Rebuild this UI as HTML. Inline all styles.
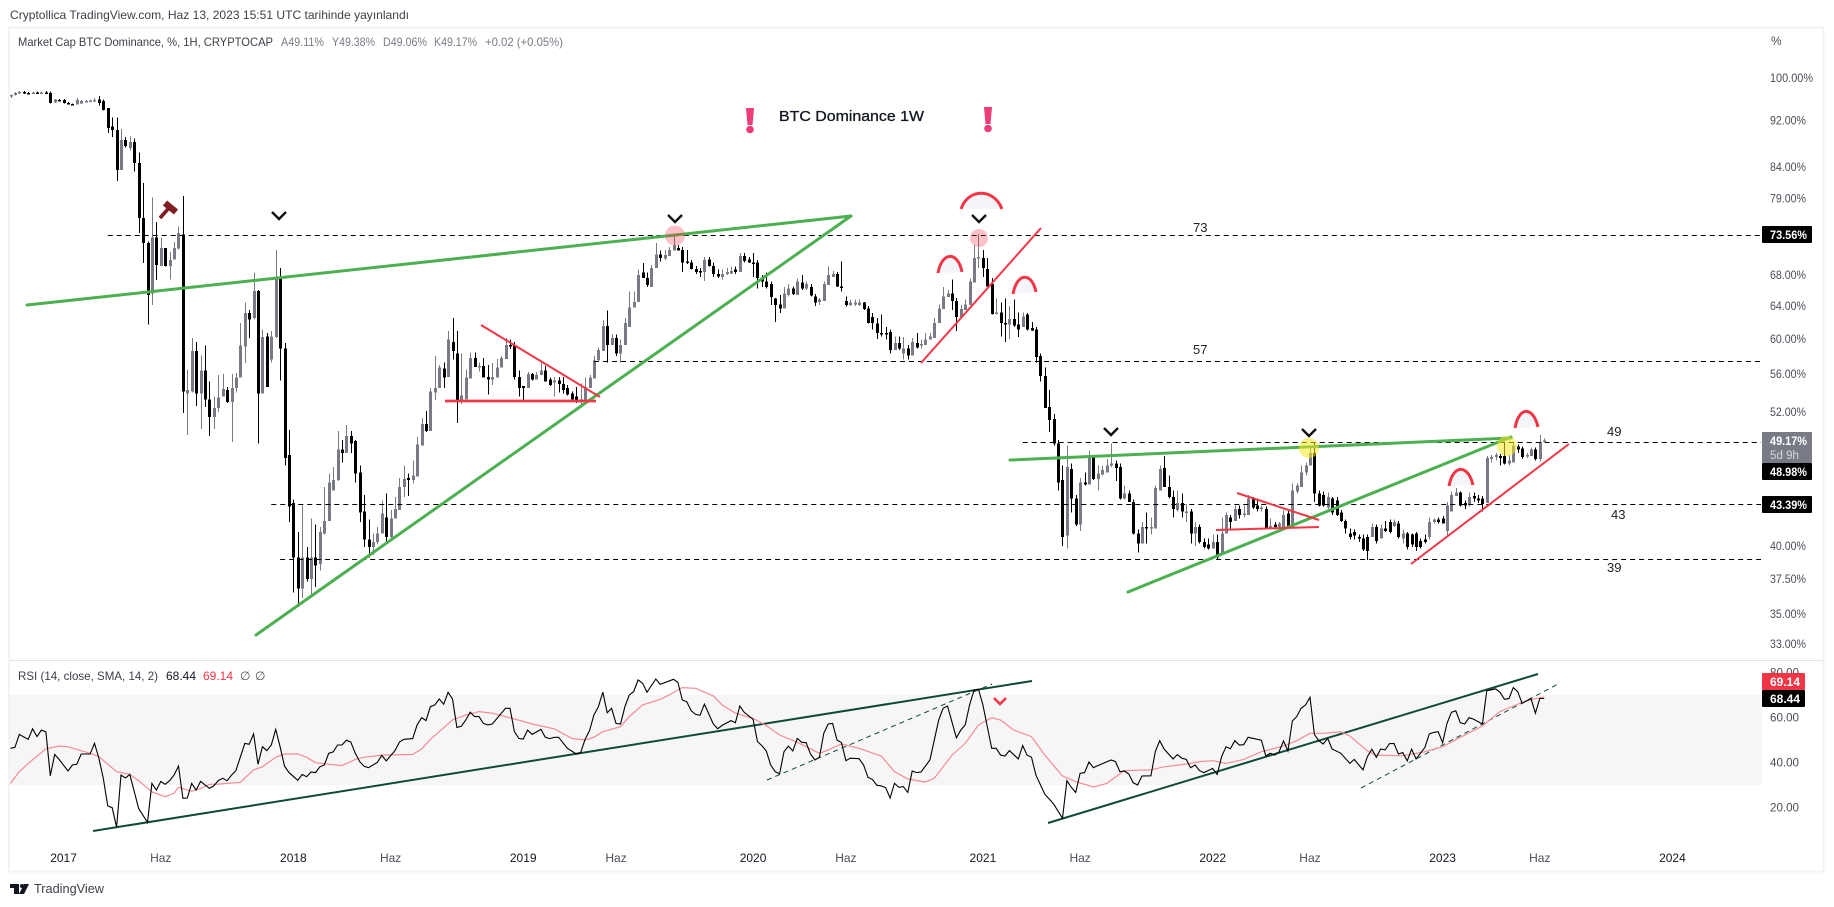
<!DOCTYPE html>
<html lang="tr">
<head>
<meta charset="utf-8">
<title>Market Cap BTC Dominance</title>
<style>
html,body{margin:0;padding:0;background:#fff;width:1834px;height:907px;overflow:hidden}
svg{display:block}
text{font-family:"Liberation Sans",sans-serif;font-size:12px;fill:#3c4049}
.tick{font-size:12px;fill:#4a4e59}
.tag{font-size:11.5px;font-weight:bold;fill:#fff}
.lvl{font-size:13px;fill:#222}
</style>
</head>
<body>
<svg id="chart" xmlns="http://www.w3.org/2000/svg" width="1834" height="907" viewBox="0 0 1834 907">
  <rect x="0" y="0" width="1834" height="907" fill="#fff"/>
  <text x="10" y="19" textLength="399" lengthAdjust="spacingAndGlyphs">Cryptollica TradingView.com, Haz 13, 2023 15:51 UTC tarihinde yayınlandı</text>
  <rect x="9" y="27.5" width="1814.5" height="844" fill="none" stroke="#f2f3f7" stroke-width="2"/>
  <line x1="10" y1="660.5" x2="1823" y2="660.5" stroke="#e0e3eb" stroke-width="1"/>

  <rect x="10" y="695" width="1752" height="90" fill="#f6f6f6"/>

  <g id="candles"></g>
  <g id="levels"></g>

  <g stroke="#4caf50" stroke-width="3" stroke-linecap="round" fill="none">
    <line x1="27" y1="305" x2="851" y2="216"/>
    <line x1="256" y1="635" x2="851" y2="216"/>
    <line x1="1010" y1="460" x2="1511" y2="438"/>
    <line x1="1128" y1="592" x2="1511" y2="437"/>
  </g>
  <g stroke="#f23645" stroke-width="2" fill="none">
    <line x1="481" y1="325" x2="600" y2="397"/>
    <line x1="445" y1="401" x2="596" y2="401" stroke-width="4" stroke-opacity=".35"/>
    <line x1="445" y1="401" x2="596" y2="401"/>
    <line x1="921" y1="363" x2="1041" y2="228"/>
    <line x1="1237" y1="493" x2="1319" y2="520"/>
    <line x1="1216" y1="530" x2="1319" y2="527"/>
    <line x1="1411" y1="564" x2="1569" y2="444"/>
  </g>
  <g stroke="#f23645" stroke-width="3" fill="#f4f5f8">
    <path d="M961 209 C968 188 994 188 1002 209"/>
    <path d="M938 273 C942 251 958 251 962 272"/>
    <path d="M1013 294 C1017 272 1032 272 1036 292"/>
    <path d="M1449 486 C1453 464 1468 464 1473 485"/>
    <path d="M1515 428 C1519 406 1533 406 1538 427"/>
  </g>
  <g>
    <circle cx="675" cy="235.5" r="10" fill="#f23645" fill-opacity=".3"/>
    <circle cx="979" cy="238" r="9" fill="#f23645" fill-opacity=".3"/>
    <circle cx="1309" cy="448" r="10" fill="#f5e625" fill-opacity=".55"/>
    <circle cx="1507" cy="446" r="10" fill="#f5e625" fill-opacity=".55"/>
  </g>
  <g fill="none" stroke="#111" stroke-width="2.4">
    <path d="M272 212 L279 219 L286 212"/>
    <path d="M668 215 L675 222 L682 215"/>
    <path d="M972 215 L979 222 L986 215"/>
    <path d="M1104 428 L1111 435 L1118 428"/>
    <path d="M1302 429 L1309 436 L1316 429"/>
    <path d="M994 698 L1000 704 L1006 698" stroke="#f23645" stroke-width="2.6"/>
  </g>
  <g stroke="#7f1d22" fill="none">
    <line x1="160" y1="218" x2="168" y2="209" stroke-width="3.6"/>
    <line x1="165" y1="203" x2="176" y2="212" stroke-width="6.5"/>
  </g>
  <g fill="#ee3b7a">
    <polygon points="746,108 754,108 752.5,125 747.5,125"/>
    <circle cx="750" cy="129.5" r="3.8"/>
  </g>
  <g fill="#ee3b7a">
    <polygon points="984,107 992,107 990.5,124 985.5,124"/>
    <circle cx="988" cy="128.5" r="3.8"/>
  </g>
  <text x="779" y="121" textLength="145" lengthAdjust="spacingAndGlyphs" style="font-size:15px;fill:#131722;stroke:#131722;stroke-width:.3">BTC Dominance  1W</text>
  <text class="lvl" x="1193" y="232">73</text>
  <text class="lvl" x="1193" y="354">57</text>
  <text class="lvl" x="1607" y="436">49</text>
  <text class="lvl" x="1611" y="519">43</text>
  <text class="lvl" x="1607" y="572">39</text>

  <g>
    <text x="18" y="46" textLength="255" lengthAdjust="spacingAndGlyphs">Market Cap BTC Dominance, %, 1H, CRYPTOCAP</text>
    <text x="281" y="46" textLength="43" lengthAdjust="spacingAndGlyphs" style="fill:#787b86">A49.11%</text>
    <text x="332" y="46" textLength="43" lengthAdjust="spacingAndGlyphs" style="fill:#787b86">Y49.38%</text>
    <text x="383" y="46" textLength="44" lengthAdjust="spacingAndGlyphs" style="fill:#787b86">D49.06%</text>
    <text x="434" y="46" textLength="43" lengthAdjust="spacingAndGlyphs" style="fill:#787b86">K49.17%</text>
    <text x="485" y="46" textLength="78" lengthAdjust="spacingAndGlyphs" style="fill:#787b86">+0.02 (+0.05%)</text>
  </g>
  <text class="tick" x="1771" y="45">%</text>
  <g id="priceAxis"></g>
  <g id="rsiAxis"></g>
  <g id="timeAxis"></g>

  <g>
    <rect x="1762" y="226" width="50" height="17" rx="1" fill="#000"/>
    <text class="tag" x="1770" y="239" textLength="37" lengthAdjust="spacingAndGlyphs">73.56%</text>
  </g>
  <g>
    <rect x="1762" y="432" width="50" height="31" rx="1" fill="#787b86"/>
    <text class="tag" x="1770" y="445" textLength="37" lengthAdjust="spacingAndGlyphs">49.17%</text>
    <text x="1770" y="459" textLength="29" lengthAdjust="spacingAndGlyphs" style="font-size:11.5px;fill:#d4d6dc">5d 9h</text>
  </g>
  <g>
    <rect x="1762" y="463" width="50" height="17" rx="1" fill="#000"/>
    <text class="tag" x="1770" y="476" textLength="37" lengthAdjust="spacingAndGlyphs">48.98%</text>
  </g>
  <g>
    <rect x="1762" y="496" width="50" height="17" rx="1" fill="#000"/>
    <text class="tag" x="1770" y="509" textLength="37" lengthAdjust="spacingAndGlyphs">43.39%</text>
  </g>

  <g>
    <text x="18" y="680" textLength="140" lengthAdjust="spacingAndGlyphs">RSI (14, close, SMA, 14, 2)</text>
    <text x="166" y="680" textLength="30" lengthAdjust="spacingAndGlyphs" style="fill:#131722">68.44</text>
    <text x="203" y="680" textLength="30" lengthAdjust="spacingAndGlyphs" style="fill:#f23645">69.14</text>
    <text x="240" y="680" style="fill:#555">∅</text>
    <text x="255" y="680" style="fill:#555">∅</text>
  </g>
  <g stroke="#0d4a3a" fill="none">
    <line x1="93" y1="831" x2="1032" y2="681" stroke-width="2"/>
    <line x1="1048" y1="823" x2="1538" y2="674" stroke-width="2"/>
    <line x1="767" y1="780" x2="992" y2="684" stroke-width="1" stroke-dasharray="5 4"/>
    <line x1="1361" y1="788" x2="1560" y2="683" stroke-width="1" stroke-dasharray="5 4"/>
  </g>
  <polyline id="rsiMaLine" fill="none" stroke="#f58b95" stroke-width="1.2"/>
  <polyline id="rsiLine" fill="none" stroke="#000" stroke-width="1.1"/>
  <g>
    <rect x="1762" y="673" width="43" height="17" rx="1" fill="#f23645"/>
    <text class="tag" x="1770" y="686" textLength="30" lengthAdjust="spacingAndGlyphs">69.14</text>
  </g>
  <g>
    <rect x="1762" y="690" width="43" height="17" rx="1" fill="#000"/>
    <text class="tag" x="1770" y="703" textLength="30" lengthAdjust="spacingAndGlyphs">68.44</text>
  </g>

  <g fill="#131722">
    <rect x="10" y="884" width="9" height="4"/>
    <rect x="14" y="884" width="5" height="10"/>
    <circle cx="22" cy="886" r="2"/>
    <polygon points="24,884 29,884 24,894 19,894"/>
  </g>
  <text x="34" y="893" textLength="70" lengthAdjust="spacingAndGlyphs" style="font-size:13px;fill:#3c4049">TradingView</text>
</svg>

<script>
const opens=[
96.5,96.7,97.0,97.3,97.1,97.0,97.2,97.0,97.2,97.1,
95.3,95.8,95.8,95.2,95.0,94.9,95.1,95.5,95.5,95.5,
95.9,95.6,94.3,90.9,90.3,83.5,88.6,87.2,88.2,84.7,
76,72.4,65.6,73.2,69.2,71.7,69.2,70.1,71.6,73.6,
53.9,54.1,58.6,53.9,56.4,53.3,51.5,52.4,53.6,54.3,
53.0,54.5,55.6,59.1,63.1,62.5,65.9,53.9,60.3,57.6,
60.2,67.5,58.9,47.8,43.5,39.1,36.8,39.1,37.5,39.1,
38.6,41,42,44.6,45.5,48.3,48,49.6,49.1,46.2,
42.8,40.5,39.9,40.3,41,42.3,40.7,42.2,42.9,44.9,
45.7,45.5,45.8,48.7,50.8,50.1,54,54.5,56.6,55.7,
59.6,58.3,53,53.3,55.5,57.8,56.7,56.9,55.7,55.4,
55.6,56.7,57.7,59.3,59.3,55.7,54.7,54.5,56,55.4,
55.9,56.4,55.4,55.1,55.3,54.9,54.5,53.9,53.6,53,
53.2,54.5,55.5,57.5,58.6,61.5,59.3,60.1,58.3,59.3,
61.4,63.8,64.5,68.3,67.6,66.4,68.9,70.8,70.2,70.6,
71.3,71.7,71.4,69.8,69.7,68.8,68.5,68.4,70.1,69.2,
68.1,67.7,68.1,68.2,68.7,68.4,70.6,70.1,69.7,69.7,
67.6,67.1,66.8,64.9,64.2,63.7,65.4,66.2,65.4,67,
66.2,66.4,65.2,64.5,64.6,66.7,67.7,68.1,66.5,64.6,
64.1,64.2,64.1,64.4,63.7,62.6,61.8,60.7,60.7,60.8,
58.7,59.5,58.3,58.9,58.1,59.5,59.2,59.3,59.9,60.1,
61.9,63.6,65.1,65.6,64.6,62.6,63.5,64.1,67,70.2,
70.3,68.8,66.8,63,63.2,61.9,61.7,62.4,61.7,61.4,
62.9,61.3,61.1,58,55.8,52.5,51.3,48.9,45.5,40.8,
46.5,43.9,41.7,45.3,45.1,47.6,45.6,46,46.2,46.8,
47,46.7,43.9,44.3,43.6,41,40.2,41.5,41.4,41.4,
44.6,46.6,44.9,44,42.9,43.5,42.7,42.8,41,41.5,
40.3,40.1,39.8,40.3,39.4,41,42.3,42,43,42.5,
42.5,43.9,43.3,43,43,41.4,41.7,41.5,41.5,42.6,
41.5,44.5,44.9,46.2,46.8,48,44.3,44.2,43.1,43.9,
43.7,42.7,42,41,41.1,40.7,40.6,40.7,40.7,41.5,
40.6,41.4,41.9,41.6,41.8,40.6,41,40.9,41,40.4,
40.5,40.7,41.9,42.1,42.2,41.2,42.8,44.1,44.4,43.5,
43.4,44.1,43.9,43.9,43.5,47.4,47.6,47.7,47.7,47,
47.1,48.6,48.4,47.7,47.7,48.3,47.4,49.11];
const highs=[
96.8,97.3,97.5,97.5,97.3,97.3,97.4,97.3,97.5,97.4,
96.0,96.0,96.0,95.4,95.1,96.2,95.8,95.8,95.9,96.2,
96.5,95.9,94.3,92.6,92.6,90.5,89.1,89.2,88.8,86.4,
81.4,72.6,79.1,75.4,73.1,71.7,71.1,72.5,74.8,79.4,
56.5,60.1,59.6,58.1,59.2,55.2,53.6,55.9,56,54.6,
56,56.1,61.9,64.4,63.5,68.3,66,61.1,60.7,60.9,
71.4,68.9,59.5,50.2,43.8,41.1,43.3,39.9,42.2,41.7,
41.5,44.9,46.1,46.7,50.1,49.2,50.7,50.1,49.2,46.8,
44.2,42.1,41,41.5,43.7,44.3,42.9,44,45.7,46.8,
46.1,47.3,49.5,51.4,52.1,54.5,58,57,57.3,60.9,
62.5,60.9,58.3,56.5,58.4,58.4,57.3,57.8,57,57.2,
57.7,58,60.1,59.9,59.6,56.4,54.7,56.2,56.1,56.2,
57.3,56.9,55.6,55.7,55.7,55.7,54.8,54.1,54.6,55,
55.6,55.9,58,59,62.2,63.4,60.5,60.5,59.9,62.5,
65.8,65.8,68.7,69.6,68.3,69.3,72.4,71.3,71.4,71.8,
73.7,72.1,71.8,71.4,70,69.2,68.9,70.4,70.4,69.7,
68.7,68.7,68.9,69.1,69.1,71,71,70.4,71,70,
68,68.3,67.1,65,65.4,66.4,66.8,66.5,67.5,68,
67.1,66.8,65.5,65,67.1,69.1,68.5,68.4,69.8,65.2,
64.8,64.8,64.8,64.5,64,63.1,62.5,62.9,61.4,61.1,
60.3,60.3,60.2,59.3,60.1,60.7,59.9,60.7,60.7,62.5,
64.2,66.4,66,67.4,65,64.1,64.8,67.5,72.1,73.7,
71.4,70.3,67.6,64.9,64.4,64.9,64,64.8,63.2,63.2,
63.1,62,61.4,58.3,56.7,54.3,51.8,49.2,46.8,48.7,
47,44.2,45.7,46.2,48.2,47.8,46.8,46.8,47.4,48.9,
47.3,47,45,44.6,43.8,41.3,41.9,42.7,42.3,45,
46.8,47.7,45.9,44.6,44.6,44.3,43.4,43,41.9,41.7,
40.6,40.6,40.9,40.9,42.3,42.7,42.5,43.3,43.3,43.3,
44.2,44,43.9,43.3,43.2,42.2,41.9,41.9,42.9,43,
45.2,45.2,46.8,47.1,48.4,49,44.6,44.5,44.4,44,
44,42.9,42.1,41.4,41.3,40.9,40.9,40.9,41.8,41.7,
41.7,42,42.1,42.1,42,41.3,41.1,41,41.1,40.6,
40.9,42.3,42.2,42.3,42.4,43.6,44.5,44.8,44.5,43.7,
44.4,44.4,44.2,44.1,47.7,47.8,48,47.9,49,47.8,
49,48.8,48.6,48,48.5,48.5,49.7,49.38];
const lows=[
96.2,96.6,96.9,96.9,96.8,96.9,96.9,96.9,97.0,95.1,
95.2,95.5,95.1,94.9,94.8,94.9,95.0,95.4,95.4,95.4,
94.8,93.8,89.8,89.1,81.7,83.5,87.3,86.8,83.3,73.8,
69.6,61.7,64.1,67.3,69.2,69.1,67.4,70.1,71.5,51.9,
49.7,54,52.6,50.3,52.5,49.6,50.3,52,53.6,52.9,
49,54,55.6,57.2,60.1,62.3,48.9,53.9,54.6,57.3,
60.1,55.3,46.8,41.9,36.5,35.5,36.1,37.3,36.3,36.9,
38.1,40.9,42,44.6,45.4,47.1,48,48,45.3,41.9,
39.9,39.1,39.3,40.1,41,40.3,40.6,42.2,42.9,44,
44.1,45.2,45.8,48.7,50,50.1,53.2,54.5,54.5,55.7,
57.6,50.9,52.8,53.3,55.5,56.8,56.3,55.6,53.8,54.8,
55.6,56.7,57.7,58.8,55.4,53.6,53.2,54.5,55.3,55.4,
55.9,55.2,54.7,53.6,54,53.9,53.7,53.2,52.9,52.5,
53.2,54.5,55.5,57.5,58.6,57.3,59.3,58,57.3,59.3,
61.4,63.8,64.5,67.6,66.4,66.4,68.9,69.8,70,70.6,
71.3,71.3,68.4,69.5,68.7,68.1,67.7,67.2,69.1,67.7,
67.6,67.4,68,68.1,68.1,68.4,69.7,69.6,67.7,66.2,
66.4,66.2,64.1,62,63.1,63.7,65.2,65.4,65.4,66,
66,65.2,64,64.1,64.6,66.7,67.7,66.4,65.8,63.9,
64,64,64,63.5,61.8,61.1,60,60.3,59.9,58.3,
58.7,58.7,57.6,57.6,58.1,58.9,58.9,59.3,59.9,60.1,
61.9,63.6,65.1,63.5,60.9,62.6,63.5,64.1,67,68.9,
67.7,66.5,62.9,62.9,60.3,59.6,60,61.4,60.2,61.4,
61,60.9,57.3,55.2,52.4,50,48.7,44.6,40,39.8,
42.7,41.6,41.2,45,45.1,45.5,44.6,45.9,46.2,46.7,
45.4,43.8,43.8,43.6,40.9,39.5,40.2,40.2,40.9,41.4,
44.6,44.9,43.9,42.3,42.8,42.3,41.9,40.2,40,40.2,
39.8,39.7,39.8,39,39.4,41,41.4,42,42.2,42.3,
42.5,43,42.8,42.8,41.3,41.4,41.3,41.4,41.5,41.5,
41.5,44.3,44.9,45.9,46.8,43.6,43.2,43.2,43,42.5,
42.4,41.9,41,40.5,40.5,40.3,39.6,38.9,40.7,40.2,
40.6,41.1,41,41.5,40.6,40.2,39.7,39.9,39.6,39.8,
40.2,40.5,41.8,41.8,41.8,40.7,42.8,44.1,43.2,43,
43.2,43.6,43.5,42.8,43.5,47.1,47.3,46.8,46.9,46.8,
47.1,48,47.4,47.5,47.7,47.3,47.2,49.06];
const closes=[
96.7,97.1,97.3,97.1,97.0,97.2,97.0,97.2,97.1,95.2,
95.9,95.7,95.2,95.0,94.9,95.8,95.6,95.6,95.7,95.8,
95.2,93.9,90.7,90.3,83.5,88.6,87.5,88.2,84.7,76,
72.4,65.4,73.2,69.3,71.7,69.2,70,71.7,73.8,54.1,
54.3,58.6,53.9,56.4,53.3,51.5,52.4,53.5,54.4,53,
54.5,55.6,59.2,63.1,62.3,65.9,53.9,60.2,54.6,60.3,
67.6,58.9,47.5,43.2,39.1,36.8,39.1,37.5,39.1,38.5,
41.1,42,45.3,45.5,48.3,48,49.6,48.9,46.1,42.7,
40.5,39.9,40.3,41,42.6,40.7,42.2,43,44.9,45.6,
45.5,45.9,48.8,50.8,50.1,54.1,54.5,56.7,55.6,59.9,
58.6,53.2,53.7,55.6,57.8,56.8,56.9,55.6,55.4,55.7,
56.7,57.8,59.3,59.1,55.7,54.5,54.5,56,55.4,55.9,
56.4,55.2,54.8,55.3,54.9,54.3,53.8,53.3,53,53.3,
54.6,55.6,57.5,58.7,61.5,59.3,60.1,58.3,59.3,61.9,
63.8,64.5,68,67.6,66.7,68.9,70.8,70.3,70.7,71.4,
72.1,71.3,69.7,69.6,68.8,68.4,68.4,70,69.2,68.1,
67.8,68.1,68.4,68.5,68.4,70.6,69.9,69.7,69.5,67.6,
67.1,66.4,65.1,64.1,63.7,65.6,66.2,65.5,67.1,66.2,
66.8,65.3,64.4,64.8,66.8,68,68.1,66.5,66.3,64.1,
64.4,64.4,64.4,63.6,61.9,61.9,60.7,60.6,60.5,58.7,
59.5,58.9,58.9,58.1,59.6,59,59.4,59.9,60.3,61.9,
63.7,65.2,65.6,64.6,62.6,63.6,64.2,67.1,70.3,70.4,
68.9,66.5,63,63.2,61.9,61.7,62.4,61.6,61.1,62.7,
61.1,61,57.9,55.8,52.4,51.2,48.9,45.3,40.7,46.7,
43.9,41.7,45.3,45.1,47.6,45.6,46.1,46.4,46.8,47,
46.6,43.9,44.3,43.6,41,40.2,41.5,41.4,41.5,44.8,
46.5,44.9,44,43,43.5,42.8,42.8,41,41.5,40.3,
39.9,39.8,40.3,39.1,41,42.5,41.9,43,42.5,42.6,
43.9,43.1,43,43.1,41.4,41.6,41.5,41.8,42.5,41.5,
44.6,45,46.2,46.8,48,44.3,43.3,43.3,44,42.7,
42.5,42,41.4,40.7,40.8,40.6,39.7,39.6,41.5,40.4,
41.4,41.2,41.1,41.9,40.7,41,39.9,40.1,39.9,39.9,
40.3,41.9,42.1,41.9,41.8,43.3,44.2,44.4,43.3,43.3,
44,43.9,43.7,43.4,47.5,47.6,47.8,47.5,47,47.3,
48.7,48.3,47.6,47.8,48.3,47.4,49,49.17];

const rsiWeeks=[
0,1,2,4,5,6,7,8,9,10,
11,13,14,15,16,18,19,20,21,22,
23,24,25,26,27,29,31,32,33,34,
35,36,37,38,39,40,41,42,43,45,
46,47,48,49,50,51,53,54,55,56,
57,58,59,60,61,62,63,65,66,67,
68,69,70,71,72,73,74,75,76,77,
78,79,80,81,83,84,85,87,88,89,
91,92,93,94,95,96,97,98,99,100,
101,102,103,104,105,106,107,108,109,112,
113,114,115,116,117,118,120,121,122,123,
124,126,128,129,130,131,132,133,134,135,
136,137,138,
139,140,141,142,143,144,146,147,150,151,
152,153,154,155,156,157,159,160,161,163,
164,165,166,168,169,170,171,172,173,174,
175,176,177,178,179,180,181,182,183,184,
185,186,187,188,189,190,192,193,194,195,
196,197,198,199,200,201,202,203,204,205,
206,208,210,211,212,214,215,216,217,218,
219,220,221,222,223,224,225,226,228,229,
230,231,232,234,235,236,238,239,240,241,
242,243,244,245,246,249,250,251,252,253,
254,255,256,258,259,260,261,263,264,265,
266,267,268,269,270,272,273,274,275,276,
277,278,
279,280,283,284,285,286,287,288,289,290,
291,292,293,294,295,296,297,298,299,301,
303,304,306,307,308,309,310,311,312,313,
314,315,316,317,318,320,321,322,323,324,
325,326,327,328,329,330,331,333,334,336,
337,338,339,340,341,342,344,345,346,347];
const rsiValues=[
46.3,46.7,52.5,50.3,55,51.5,54.4,53.6,34.1,43.6,
41.4,36.2,38.9,39.2,43.8,43.8,48.5,41.9,33,20.7,
19.9,11.2,34.4,33.1,34.7,19.5,13.4,30.7,27.8,31.6,
30.3,31.9,34.4,38.4,24.1,24.2,30.7,27.8,31.6,28.5,
29.6,31.9,33,31.9,34.4,36.4,48.5,48.1,52.7,39.2,
47,45.3,47.8,54.7,47,38.4,35.5,32.1,34.7,33.7,
35.8,35.5,38.1,38.9,44.1,44.7,47.8,47.8,49.9,49.1,
44.1,40.4,38.3,37.7,40.1,43.2,40.7,45.3,49.1,50.3,
50.6,56.7,59.9,58.6,64.8,65.6,68.2,65.9,71.2,68.2,
55.6,56.1,58.9,62.4,60.4,60.4,57.4,56.7,57.1,64.1,
64.1,53.7,50.7,50.4,54.4,52.5,54.7,51.2,50.6,51.2,
51.2,46.3,43.8,44.5,50.3,54.1,61.1,64.8,71.3,62.1,
64.1,57.4,57.1,
64.8,70,71.5,76.7,75.2,71.2,77.1,74.7,77,75.6,
67.8,67,63,61.4,61,65.9,57.1,55,56.5,58.6,
57.7,65.1,62.3,59.2,49.3,47.5,45.1,38.9,35.9,35,
44.8,47.3,45.1,50.7,49,48.8,43.8,41.1,42.3,53,
57.1,57.4,50,48.8,40.8,41.9,41.7,38.9,33.4,32.5,
29.9,29.6,28.8,24.2,30.7,29,29.3,26.7,36.2,35.5,
35.8,41.1,58.9,64.1,65.1,51,54.4,56.7,65.6,72.2,
72.5,65.6,55.9,46.3,46.3,43.3,42.9,45.3,41.6,47.5,
43.3,42.3,34.4,25.9,23.8,21.6,15.2,31.9,29,26.7,
35.2,35.5,40.2,37.7,38.6,41.1,40.4,35.9,36.2,34.9,
31,30,34,34.1,44.8,49.7,46,41.6,43.5,41.9,
41.4,37.7,38.9,36.4,35.5,37.4,34.7,42.6,47,46.1,
49.7,47.8,
47.9,51.2,49.9,42.9,44.1,43.3,44.7,49.6,45.1,58.4,
60.4,64.1,65.6,69,52.5,49.7,48.2,50.7,46,44.1,
39.6,41.4,36.7,42.6,45.9,42.3,46,45.6,48.4,48.5,
43.8,44.4,40.7,45.9,41.6,46.7,52.7,53.4,53.7,48.8,
57.4,62.3,63,57.7,57.1,59.9,59.3,57.1,71.9,72.7,
71.2,68.1,68.4,73.3,71.5,66.3,68.4,61.9,68.5,68.44];

const rsiMaWeeks=[0,2,4,8,11,13,18,20,24,27,29,32,35,37,38,41,43,45,47,52,55,57,60,62,65,67,69,72,75,78,80,84,91,93,95,97,100,103,106,109,113,118,123,127,130,132,134,138,140,143,147,149,152,155,159,161,164,168,171,174,178,183,185,188,192,197,200,203,207,209,213,216,219,222,224,227,231,234,238,241,245,248,252,258,261,266,269,272,275,279,283,288,291,294,297,301,303,307,309,315,320,324,328,333,337,340,343,347];
const rsiMaValues=[30.7,35.9,39.6,46.1,47.3,47,44.1,42.6,35.9,34.7,31.9,27,24.8,26.3,29,27.2,28.5,30.3,30.4,31.2,36.7,38.1,42.3,43.8,43.8,42.3,39.9,39.2,38.6,41.4,42.3,43.3,43.6,46,50.3,53.7,58.9,61.1,62.6,61.9,59.9,57.1,55,50.7,50,51.2,53.7,55.9,60.4,65.6,68.1,70,73.3,73,69.6,65.6,61.9,59.6,56.4,52.2,49,44.1,45.6,48.2,46.3,42.9,35.9,32.7,31.3,33,43.3,48.5,56.7,59.9,58.9,54.4,51.5,43.3,34,31.5,29.1,30.7,36.4,36.7,38.1,39.3,40.4,40.8,39.6,41.4,44.8,47.3,49.7,53,53,53.6,51.8,45.1,43.3,43,44.8,47,51.2,56.2,62.6,65.1,67.5,69.14];

const priceTicks=[100,92,84,79,68,64,60,56,52,40,37.5,35,33];
const rsiTicks=[80,60,40,20];
const timeLabels=["2017","Haz","2018","Haz","2019","Haz","2020","Haz","2021","Haz","2022","Haz","2023","Haz","2024"];
const timeWeeks=[12,34,64,86,116,137,168,189,220,242,272,294,324,346,376];
const levelValues=[73.56,57.45,48.98,43.39,39];
const levelStartWeeks=[22,132,229,59,61];

const NS='http://www.w3.org/2000/svg';
const xScale=function(w){return 10.5+w*4.42;};
const yPrice=function(v){return 78+510.6*Math.log(100/v);};
const yRsi=function(v){return 785-(v-30)*2.25;};

function svgEl(tag,parent){
  const el=document.createElementNS(NS,tag);
  parent.appendChild(el);
  return el;
}

const candleLayer=document.getElementById('candles');
for(let i=0;i<closes.length;i++){
  const color=closes[i]<opens[i]?'#000000':'#787b86';
  const cx=Math.round(xScale(i));
  const top=yPrice(Math.max(opens[i],closes[i]));
  const bot=yPrice(Math.min(opens[i],closes[i]));
  const g=svgEl('g',candleLayer);
  
  
  g.setAttribute('shape-rendering','crispEdges');
  g.setAttribute('fill',color);
  const wick=svgEl('rect',g);
  
  
  wick.setAttribute('x',cx);
  wick.setAttribute('width',1);
  wick.setAttribute('y',yPrice(highs[i]));
  wick.setAttribute('height',Math.max(1,yPrice(lows[i])-yPrice(highs[i])));
  const body=svgEl('rect',g);
  
  
  body.setAttribute('x',cx-1);
  body.setAttribute('width',3);
  body.setAttribute('y',top);
  body.setAttribute('height',Math.max(1.5,bot-top));
}

const levelLayer=document.getElementById('levels');
for(let i=0;i<levelValues.length;i++){
  const ln=svgEl('line',levelLayer);
  
  
  const y=Math.round(yPrice(levelValues[i]))+0.5;
  ln.setAttribute('x1',xScale(levelStartWeeks[i]));
  ln.setAttribute('x2',1761);
  ln.setAttribute('y1',y);
  ln.setAttribute('y2',y);
  ln.setAttribute('stroke','#000');
  ln.setAttribute('stroke-width',1);
  ln.setAttribute('stroke-dasharray','5 4');
}

const priceAxis=document.getElementById('priceAxis');
priceTicks.forEach(function(v){
  const t=svgEl('text',priceAxis);
  
  
  t.setAttribute('class','tick');
  t.setAttribute('x',1770);
  t.setAttribute('y',yPrice(v)+4);
  t.setAttribute('textLength',v>=100?43:36);
  t.setAttribute('lengthAdjust','spacingAndGlyphs');
  t.textContent=v.toFixed(2)+'%';
});

const rsiAxis=document.getElementById('rsiAxis');
rsiTicks.forEach(function(v){
  const t=svgEl('text',rsiAxis);
  
  
  t.setAttribute('class','tick');
  t.setAttribute('x',1770);
  t.setAttribute('y',yRsi(v)+4);
  t.setAttribute('textLength',29);
  t.setAttribute('lengthAdjust','spacingAndGlyphs');
  t.textContent=v.toFixed(2);
});

const timeAxis=document.getElementById('timeAxis');
timeLabels.forEach(function(label,i){
  const t=svgEl('text',timeAxis);
  
  
  t.setAttribute('class','tick');
  t.setAttribute('text-anchor','middle');
  t.setAttribute('x',xScale(timeWeeks[i]));
  t.setAttribute('y',862);
  if(label!=='Haz'){t.style.fill='#131722';}
  t.textContent=label;
});

document.getElementById('rsiLine').setAttribute('points',rsiWeeks.map(function(w,i){return xScale(w).toFixed(1)+','+yRsi(rsiValues[i]).toFixed(1);}).join(' '));
document.getElementById('rsiMaLine').setAttribute('points',rsiMaWeeks.map(function(w,i){return xScale(w).toFixed(1)+','+yRsi(rsiMaValues[i]).toFixed(1);}).join(' '));
</script>
</body>
</html>
